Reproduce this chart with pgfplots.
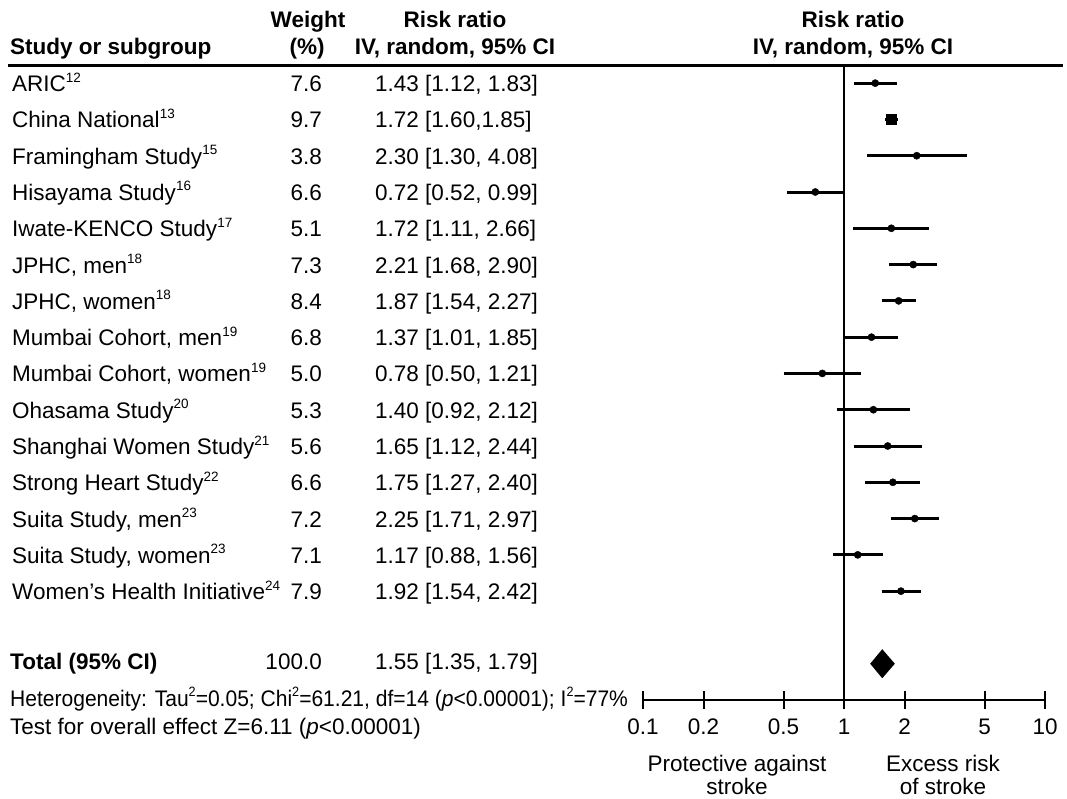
\documentclass[border=0pt]{standalone}
\usepackage{pgfplots}
\pgfplotsset{compat=1.18}
\usepackage{fontspec}
\setmainfont{Liberation Sans}
\newcommand\fs{\fontsize{22.5}{27}\selectfont}
\newcommand\supr[1]{\raisebox{0.42em}{\fontsize{13.5}{13.5}\selectfont #1}}
\begin{document}
\begin{tikzpicture}[x=1pt,y=1pt]
\useasboundingbox (0,0) rectangle (1067,-798);
\begin{axis}[
  at={(643pt,-700pt)}, anchor=south west,
  width=402pt, height=635pt, scale only axis,
  xmode=log, xmin=0.1, xmax=10, ymin=-18, ymax=-0.5,
  axis x line*=bottom, axis y line=none,
  xtick={0.1,0.2,0.5,1,2,5,10}, xticklabels={0.1,0.2,0.5,1,2,5,10},
  minor xtick={}, xminorticks=false,
  tick align=center, major tick length=18pt,
  axis line style={line width=2.5pt, black},
  major tick style={line width=2pt, black},
  xticklabel style={font=\fs, inner sep=0pt, yshift=-10pt},
  clip=false,
]
% confidence intervals
\addplot[black, line width=3pt] coordinates {(1.12,-1) (1.83,-1)};
\addplot[black, line width=3pt] coordinates {(1.60,-2) (1.85,-2)};
\addplot[black, line width=3pt] coordinates {(1.30,-3) (4.08,-3)};
\addplot[black, line width=3pt] coordinates {(0.52,-4) (0.99,-4)};
\addplot[black, line width=3pt] coordinates {(1.11,-5) (2.66,-5)};
\addplot[black, line width=3pt] coordinates {(1.68,-6) (2.90,-6)};
\addplot[black, line width=3pt] coordinates {(1.54,-7) (2.27,-7)};
\addplot[black, line width=3pt] coordinates {(1.01,-8) (1.85,-8)};
\addplot[black, line width=3pt] coordinates {(0.50,-9) (1.21,-9)};
\addplot[black, line width=3pt] coordinates {(0.92,-10) (2.12,-10)};
\addplot[black, line width=3pt] coordinates {(1.12,-11) (2.44,-11)};
\addplot[black, line width=3pt] coordinates {(1.27,-12) (2.40,-12)};
\addplot[black, line width=3pt] coordinates {(1.71,-13) (2.97,-13)};
\addplot[black, line width=3pt] coordinates {(0.88,-14) (1.56,-14)};
\addplot[black, line width=3pt] coordinates {(1.54,-15) (2.42,-15)};
% point estimates
\addplot[only marks, mark=*, mark size=3.6pt, black] coordinates {
(1.43,-1) (2.30,-3) (0.72,-4) (1.72,-5) (2.21,-6) (1.87,-7) (1.37,-8)
(0.78,-9) (1.40,-10) (1.65,-11) (1.75,-12) (2.25,-13) (1.17,-14) (1.92,-15)};
\addplot[only marks, mark=square*, mark size=5pt, black] coordinates {(1.72,-2)};
% pooled estimate
\addplot[fill=black, draw=none] coordinates {(1.35,-17) (1.55,-16.6) (1.79,-17) (1.55,-17.4)};
\draw[line width=2pt] (axis cs:1,-0.5) -- (axis cs:1,-18);
\end{axis}
\draw[line width=3pt] (8,-65) -- (1063,-65);
\begin{scope}[every node/.style={inner sep=0pt, font=\fs}]
% headers
\node[anchor=base west, font=\fs\bfseries] at (10,-54) {Study or subgroup};
\node[anchor=base, font=\fs\bfseries] at (308,-27) {Weight};
\node[anchor=base, font=\fs\bfseries] at (307,-54) {(\%)};
\node[anchor=base, font=\fs\bfseries] at (455,-27) {Risk ratio};
\node[anchor=base, font=\fs\bfseries] at (455,-54) {IV, random, 95\% CI};
\node[anchor=base, font=\fs\bfseries] at (853,-27) {Risk ratio};
\node[anchor=base, font=\fs\bfseries] at (853,-54) {IV, random, 95\% CI};
% rows
\foreach \nm/\w/\rr [count=\k] in {
  {ARIC\supr{12}}/7.6/{1.43 [1.12, 1.83]},
  {China National\supr{13}}/9.7/{1.72 [1.60,1.85]},
  {Framingham Study\supr{15}}/3.8/{2.30 [1.30, 4.08]},
  {Hisayama Study\supr{16}}/6.6/{0.72 [0.52, 0.99]},
  {Iwate-KENCO Study\supr{17}}/5.1/{1.72 [1.11, 2.66]},
  {JPHC, men\supr{18}}/7.3/{2.21 [1.68, 2.90]},
  {JPHC, women\supr{18}}/8.4/{1.87 [1.54, 2.27]},
  {Mumbai Cohort, men\supr{19}}/6.8/{1.37 [1.01, 1.85]},
  {Mumbai Cohort, women\supr{19}}/5.0/{0.78 [0.50, 1.21]},
  {Ohasama Study\supr{20}}/5.3/{1.40 [0.92, 2.12]},
  {Shanghai Women Study\supr{21}}/5.6/{1.65 [1.12, 2.44]},
  {Strong Heart Study\supr{22}}/6.6/{1.75 [1.27, 2.40]},
  {Suita Study, men\supr{23}}/7.2/{2.25 [1.71, 2.97]},
  {Suita Study, women\supr{23}}/7.1/{1.17 [0.88, 1.56]},
  {Women’s Health Initiative\supr{24}}/7.9/{1.92 [1.54, 2.42]}}{
  \pgfmathsetmacro\yy{-83.5-36.3*(\k-1)-8}
  \node[anchor=base west] at (12,\yy) {\nm};
  \node[anchor=base east] at (322,\yy) {\w};
  \node[anchor=base west] at (375,\yy) {\rr};
}
% total
\node[anchor=base west, font=\fs\bfseries] at (10,-669) {Total (95\% CI)};
\node[anchor=base east] at (322,-669) {100.0};
\node[anchor=base west] at (375,-669) {1.55 [1.35, 1.79]};
\node[anchor=base west] at (10,-706) {\scalebox{0.935}[1]{Heterogeneity: Tau\supr{2}=0.05; Chi\supr{2}=61.21, df=14 (\textit{p}<0.00001); I\supr{2}=77\%}};
\node[anchor=base west] at (10,-734) {Test for overall effect Z=6.11 (\textit{p}<0.00001)};
\node[anchor=base] at (737,-771) {Protective against};
\node[anchor=base] at (737,-794) {stroke};
\node[anchor=base] at (943,-771) {Excess risk};
\node[anchor=base] at (943,-794) {of stroke};
\end{scope}
\end{tikzpicture}
\end{document}
